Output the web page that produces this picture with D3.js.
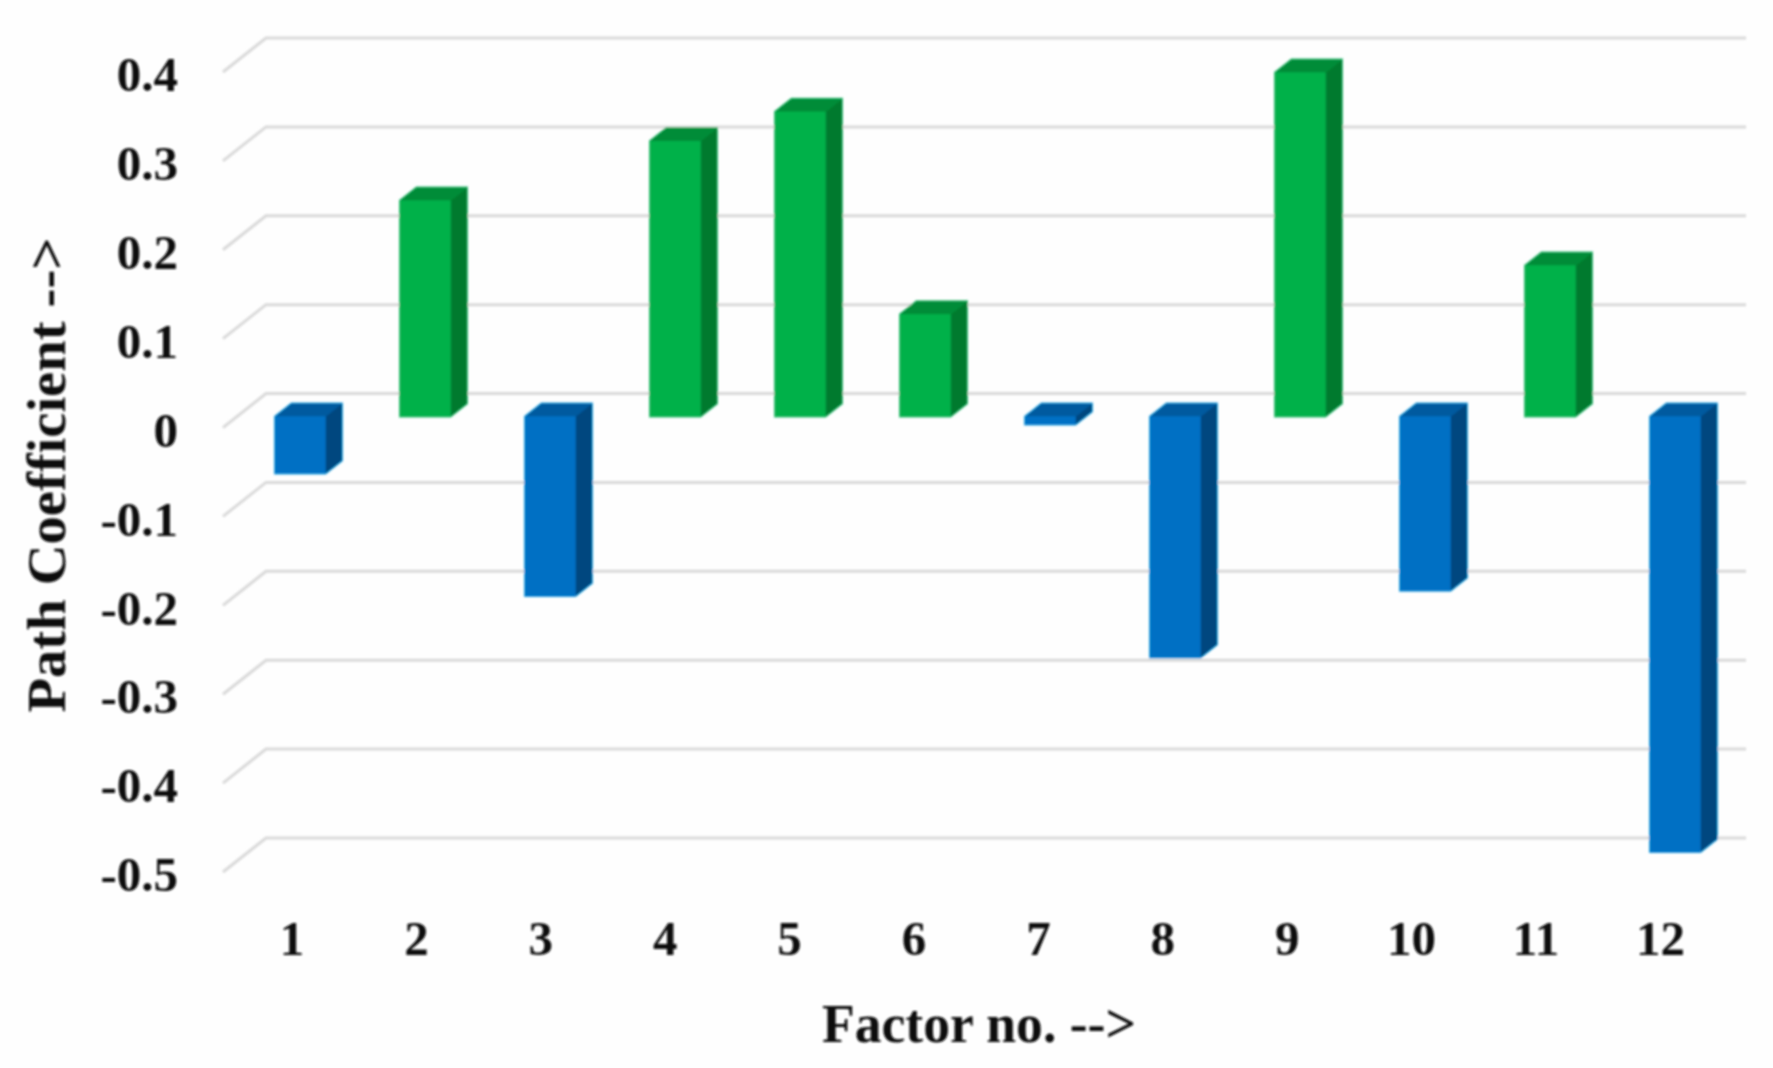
<!DOCTYPE html>
<html>
<head>
<meta charset="utf-8">
<script src="https://cdn.jsdelivr.net/npm/d3@7"></script>
<style>
  html, body { margin: 0; padding: 0; background: #fefefe; }
  svg { display: block; }
  text { font-family: "Liberation Serif", serif; font-weight: bold; fill: #111; }
</style>
</head>
<body>
<svg id="chart"></svg>
<script>
const factors = ['1','2','3','4','5','6','7','8','9','10','11','12'];
const coefficients = [-0.064, 0.243, -0.202, 0.31, 0.343, 0.115, -0.009, -0.271, 0.387, -0.196, 0.17, -0.49];
const yTicks = [0.4, 0.3, 0.2, 0.1, 0, -0.1, -0.2, -0.3, -0.4, -0.5];

const width = 1773, height = 1068;

// fake 3d offsets, same idea as the excel chart
const wall = {dx: 43, dy: -34};     // front edge of floor -> back wall
const barDepth = {dx: 16.5, dy: -13};
const barShift = 23;                // bar front face sits this far below the wall line

const svg = d3.select('#chart').attr('width', width).attr('height', height);

svg.append('defs').append('filter').attr('id', 'soft')
  .append('feGaussianBlur').attr('stdDeviation', 0.9);

const y = d3.scaleLinear().domain([-0.5, 0.4]).range([838, 38]);
const x = d3.scaleBand().domain(factors).range([237.75, 1737.75]).paddingInner(0.596).paddingOuter(0.298);
// labels run on a slightly tighter step than the bars
const xLabels = d3.scaleBand().domain(factors).range([229.8, 1722.6]);

const root = svg.append('g').attr('filter', 'url(#soft)');

// gridlines on wall + the slanted bit to the left
const grid = root.append('g');
yTicks.forEach(t => {
  grid.append('path')
    .attr('d', d3.line()([
      [266 - wall.dx, y(t) - wall.dy],
      [266, y(t)],
      [1746, y(t)]
    ]))
    .attr('fill', 'none')
    .attr('stroke', '#d9d9d9')
    .attr('stroke-width', 3);
});

// y axis labels
const yAxis = d3.axisLeft(y).tickValues(yTicks).tickSize(0).tickPadding(0)
  .tickFormat(d => String(d));
root.append('g')
  .attr('transform', 'translate(178,37)')
  .call(yAxis)
  .call(g => g.select('.domain').remove())
  .selectAll('text')
  .style('font-size', '49px')
  .style('font-family', '"Liberation Serif", serif');

// x axis labels
const xAxis = d3.axisBottom(xLabels).tickSize(0).tickPadding(0);
root.append('g')
  .attr('transform', 'translate(0,920)')
  .call(xAxis)
  .call(g => g.select('.domain').remove())
  .selectAll('text')
  .style('font-size', '49px')
  .style('font-family', '"Liberation Serif", serif');

// bars
const colors = {
  pos: {front: '#00b14a', side: '#007a2e', top: '#008c38', edge: '#35c078'},
  neg: {front: '#0070c4', side: '#00477f', top: '#005a9f', edge: '#2aa6e4'}
};

function poly(g, pts, fill, stroke) {
  g.append('polygon')
    .attr('points', pts.map(p => p.join(',')).join(' '))
    .attr('fill', fill)
    .attr('stroke', stroke || 'none')
    .attr('stroke-width', stroke ? 2 : 0);
}

const bars = root.append('g');
coefficients.forEach((v, i) => {
  const c = v >= 0 ? colors.pos : colors.neg;
  const x0 = x(factors[i]), x1 = x0 + x.bandwidth();
  const yTop = y(Math.max(v, 0)) + barShift;
  const yBot = y(Math.min(v, 0)) + barShift;
  const dx = barDepth.dx, dy = barDepth.dy;
  const g = bars.append('g');

  // outline first, faces go on top of it
  poly(g, [[x0, yTop], [x0 + dx, yTop + dy], [x1 + dx, yTop + dy], [x1 + dx, yBot + dy], [x1, yBot], [x0, yBot]], c.front, c.edge);
  poly(g, [[x1, yTop], [x1 + dx, yTop + dy], [x1 + dx, yBot + dy], [x1, yBot]], c.side);
  poly(g, [[x0, yTop], [x0 + dx, yTop + dy], [x1 + dx, yTop + dy], [x1, yTop]], c.top);
  g.append('rect')
    .attr('x', x0).attr('y', yTop)
    .attr('width', x.bandwidth()).attr('height', yBot - yTop)
    .attr('fill', c.front);
});

// axis titles
root.append('text')
  .attr('x', 979).attr('y', 1042)
  .attr('text-anchor', 'middle')
  .attr('textLength', 314)
  .attr('lengthAdjust', 'spacingAndGlyphs')
  .style('font-size', '55px')
  .text('Factor no. -->');

root.append('text')
  .attr('transform', 'translate(65,475) rotate(-90)')
  .attr('text-anchor', 'middle')
  .attr('textLength', 475)
  .attr('lengthAdjust', 'spacingAndGlyphs')
  .style('font-size', '55px')
  .text('Path Coefficient -->');
</script>
</body>
</html>
